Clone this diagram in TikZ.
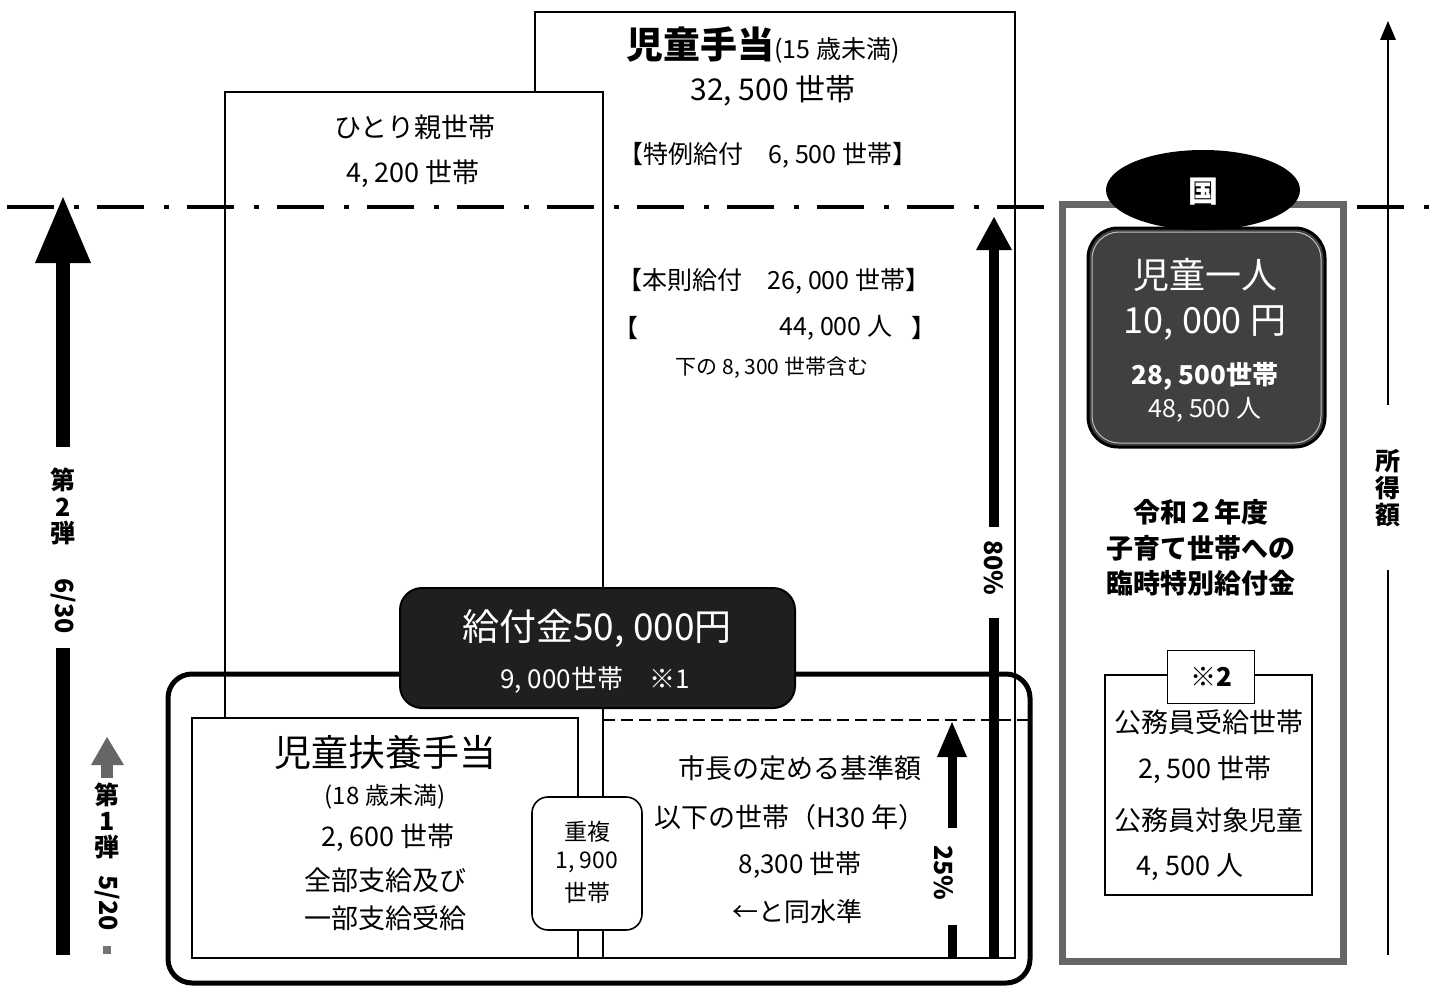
\documentclass[tikz,border=0pt]{standalone}
\usepackage{fontspec}
\setmainfont{Noto Sans CJK JP}
\newcommand{\fsz}[1]{\fontsize{#1}{#1}\selectfont}
\tikzset{
  txt/.style={inner sep=0pt, align=center, text=black},
  wtxt/.style={inner sep=0pt, align=center, text=white},
  boxln/.style={draw=black, line width=1.6pt, fill=white},
  dashdotln/.style={line width=4.5pt, dash pattern=on 47pt off 20pt on 5pt off 18pt},
}
\begin{document}
\begin{tikzpicture}[x=1pt,y=-1pt]
\useasboundingbox[fill=white] (0,0) rectangle (1431,987);
% back boxes
\draw[boxln] (535,12) rectangle (1015,958);
\draw[boxln] (225,92) rectangle (603,958);
% income threshold line
\draw[dashdotln] (7,207) -- (1431,207);
% big rounded frame
\draw[line width=5pt, rounded corners=24pt] (168,674) rectangle (1030,983);
\draw[boxln] (192,718) rectangle (578,958);
\draw[boxln, rounded corners=16pt] (532,797) rectangle (642,930);
\draw[fill=black!88, draw=black, line width=2pt, rounded corners=22pt] (400,588) rectangle (795,708);
\draw[line width=2.5pt, dash pattern=on 12pt off 6pt] (603,720) -- (1030,720);
% left big arrow
\fill (56,260) rectangle (70,447);
\fill (56,648) rectangle (70,955);
\fill (35,263) -- (63,197) -- (91,263) -- cycle;
% small gray arrow
\fill[black!60] (91,765) -- (107,737) -- (124,765) -- cycle;
\fill[black!60] (101,764) rectangle (113,778);
\fill[black!55] (103,946) rectangle (111,954);
% 80% arrow
\fill (989,248) rectangle (999,527);
\fill (989,618) rectangle (999,958);
\fill (976,250) -- (994,217) -- (1012,250) -- cycle;
% 25% arrow
\fill (948,755) rectangle (957,828);
\fill (948,925) rectangle (957,958);
\fill (937,757) -- (952,722) -- (967,757) -- cycle;
% income axis
\draw[line width=2.5pt] (1388,405) -- (1388,36);
\fill (1380,40) -- (1388,21) -- (1396,40) -- cycle;
\draw[line width=2.5pt] (1388,570) -- (1388,955);
% right panel
\draw[line width=7pt, draw=black!60, fill=white] (1062,204) rectangle (1343,961);
\draw[fill=black!75, draw=black, line width=3pt, rounded corners=30pt] (1088,228) rectangle (1325,447);
\draw[draw=black!25, line width=1pt, rounded corners=27pt] (1092,232) rectangle (1321,443);
\fill (1203,190) ellipse [x radius=97pt, y radius=40pt];
\draw[boxln] (1105,675) rectangle (1312,895);

% ---- texts ----
\node[txt, anchor=base west] (tA) at (626,59) {{\fsz{37}\bfseries 児童手当}{\fsz{25}(15 歳未満)}};
\node[txt] (tB) at (773,91) {\fsz{30}32, 500 世帯};
\node[txt] (tC) at (768,155) {\fsz{25}【特例給付　6, 500 世帯】};
\node[txt] (tD) at (774,281) {\fsz{25}【本則給付　26, 000 世帯】};
\node[txt, anchor=west] (tE1) at (613,328) {\fsz{25}【};
\node[txt] (tE2) at (836,328) {\fsz{25}44, 000 人};
\node[txt, anchor=east] (tE3) at (937,328) {\fsz{25}】};
\node[txt] (tF) at (772,368) {\fsz{21}下の 8, 300 世帯含む};

\node[txt] (hA) at (415,127) {\fsz{27}ひとり親世帯};
\node[txt] (hB) at (413,174) {\fsz{27}4, 200 世帯};

\node[wtxt] (kA) at (597,628) {\fsz{37}給付金50, 000円};
\node[wtxt] (kB) at (595,680) {\fsz{26}9, 000世帯　※1};

\node[txt] (jA) at (385,752) {\fsz{37}児童扶養手当};
\node[txt] (jB) at (385,797) {\fsz{24}(18 歳未満)};
\node[txt] (jC) at (388,838) {\fsz{27}2, 600 世帯};
\node[txt] (jD) at (385,880) {\fsz{27}全部支給及び};
\node[txt] (jE) at (385,918) {\fsz{27}一部支給受給};

\node[txt] (dA) at (587,832) {\fsz{23}重複};
\node[txt] (dB) at (587,862) {\fsz{23}1, 900};
\node[txt] (dC) at (587,893) {\fsz{23}世帯};

\node[txt] (sA) at (800,768) {\fsz{27}市長の定める基準額};
\node[txt] (sB) at (790,817) {\fsz{27}以下の世帯（H30 年）};
\node[txt] (sC) at (800,865) {\fsz{26}8,300 世帯};
\node[txt] (sD) at (797,912) {\fsz{26}←と同水準};

\node[txt, rotate=-90] (p80) at (994,568) {\fsz{25}\bfseries 80\%};
\node[txt, rotate=-90] (p25) at (944,873) {\fsz{25}\bfseries 25\%};

\node[txt] (l1) at (63,480) {\fsz{25}\bfseries 第};
\node[txt] (l2) at (63,507) {\fsz{25}\bfseries 2};
\node[txt] (l3) at (63,533) {\fsz{25}\bfseries 弾};
\node[txt, rotate=-90] (l4) at (63,606) {\fsz{25}\bfseries 6/30};
\node[txt] (m1) at (107,795) {\fsz{25}\bfseries 第};
\node[txt] (m2) at (107,821) {\fsz{25}\bfseries 1};
\node[txt] (m3) at (107,847) {\fsz{25}\bfseries 弾};
\node[txt, rotate=-90] (m4) at (107,903) {\fsz{25}\bfseries 5/20};

\node[txt] (y1) at (1388,461) {\fsz{25}\bfseries 所};
\node[txt] (y2) at (1388,488) {\fsz{25}\bfseries 得};
\node[txt] (y3) at (1388,515) {\fsz{25}\bfseries 額};

\node[wtxt] (kuni) at (1203,192) {\fsz{30}\bfseries 国};
\node[wtxt] (cA) at (1205,275) {\fsz{36}児童一人};
\node[wtxt] (cB) at (1205,323) {\fsz{36}10, 000 円};
\node[wtxt] (cC) at (1205,376) {\fsz{26}\bfseries 28, 500世帯};
\node[wtxt] (cD) at (1205,410) {\fsz{25}48, 500 人};

\node[txt] (rA) at (1201,512) {\fsz{27}\bfseries 令和２年度};
\node[txt] (rB) at (1201,548) {\fsz{27}\bfseries 子育て世帯への};
\node[txt] (rC) at (1201,583) {\fsz{27}\bfseries 臨時特別給付金};

\node[draw=black, line width=1.6pt, fill=white, minimum width=87pt, minimum height=53pt, inner sep=0pt] (note2) at (1211,677) {\fsz{26}\bfseries ※2};
\node[txt] (gA) at (1209,722) {\fsz{27}公務員受給世帯};
\node[txt] (gB) at (1205,770) {\fsz{27}2, 500 世帯};
\node[txt] (gC) at (1209,820) {\fsz{27}公務員対象児童};
\node[txt] (gD) at (1190,867) {\fsz{27}4, 500 人};
\end{tikzpicture}
\end{document}
